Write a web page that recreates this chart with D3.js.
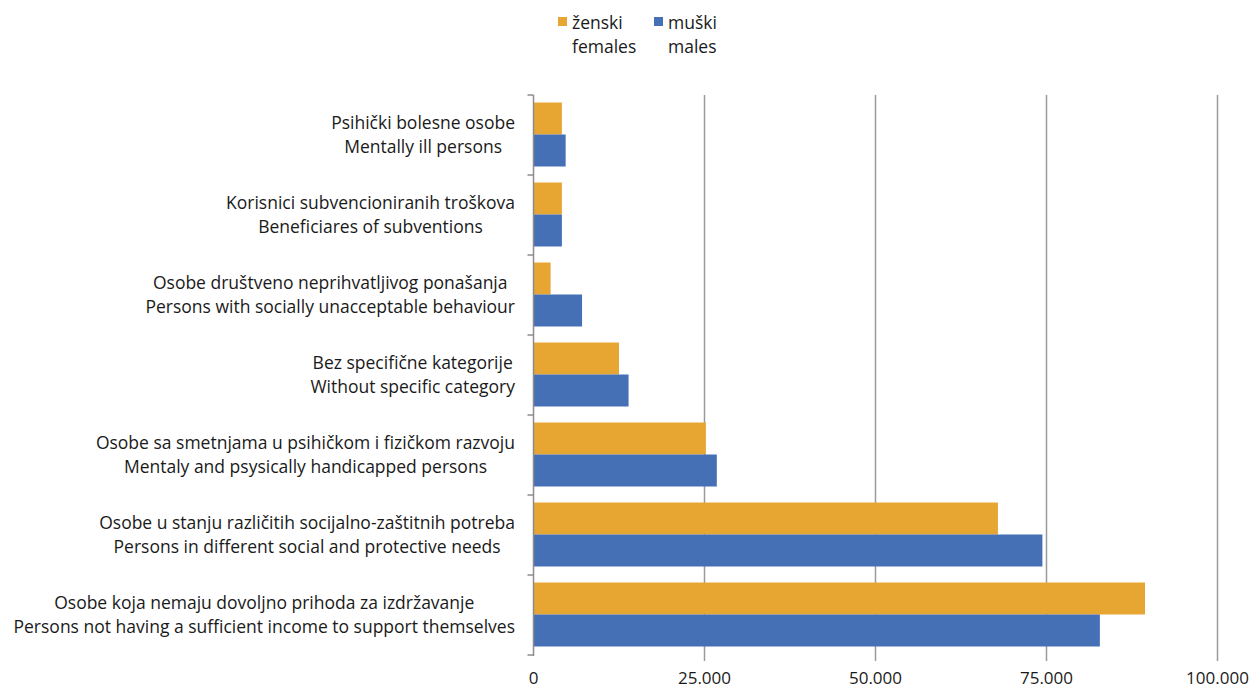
<!DOCTYPE html>
<html><head><meta charset="utf-8">
<script src="https://cdn.jsdelivr.net/npm/d3@7"></script>
<style>body{margin:0;background:#fff}svg{display:block}text{font-family:"Open Sans",sans-serif;fill:#1a1a1a}</style>
</head><body><svg id="c" width="1252" height="689"></svg>
<script>
const categoriesLocal = ["Psihički bolesne osobe","Korisnici subvencioniranih troškova","Osobe društveno neprihvatljivog ponašanja","Bez specifične kategorije","Osobe sa smetnjama u psihičkom  i fizičkom razvoju","Osobe u stanju različitih socijalno-zaštitnih potreba","Osobe koja nemaju dovoljno prihoda za izdržavanje"];
const categoriesEnglish = ["Mentally ill persons","Beneficiares of subventions","Persons with socially unacceptable behaviour","Without specific category","Mentaly and psysically handicapped persons","Persons in different social and protective needs","Persons not having a sufficient income to support themselves"];
const females = [4150, 4150, 2500, 12500, 25200, 67900, 89400];
const males = [4700, 4150, 7100, 13900, 26800, 74400, 82800];
const seriesNames = ["ženski","muški"];
const seriesNamesEn = ["females","males"];
const seriesColors = ["#E7A532","#4570B6"];
const xTicks = [0, 25000, 50000, 75000, 100000];
const xTickLabels = ["0","25.000","50.000","75.000","100.000"];

const svg = d3.select("#c");
const x = d3.scaleLinear().domain([0,100000]).range([533.5,1217.5]);
const y = d3.scaleBand().domain(d3.range(7)).range([95,655]);
const sub = d3.scaleBand().domain([0,1]).range([7.5,71.5]);

// gridlines
svg.append("g").selectAll("line").data(xTicks.slice(1)).join("line")
  .attr("x1",d=>x(d)).attr("x2",d=>x(d)).attr("y1",95).attr("y2",661)
  .attr("stroke","#9a9a9a").attr("stroke-width",1.5);

// bars
const groups = svg.append("g").selectAll("g").data(d3.range(7)).join("g")
  .attr("transform",i=>`translate(0,${y(i)})`);
[females, males].forEach((vals,s)=>{
  groups.append("rect")
    .attr("x",x(0)).attr("y",sub(s)).attr("height",sub.bandwidth())
    .attr("width",i=>x(vals[i])-x(0)).attr("fill",seriesColors[s]);
});

// y axis line with category ticks
svg.append("line").attr("x1",x(0)).attr("x2",x(0)).attr("y1",95).attr("y2",656)
  .attr("stroke","#8c8c8c").attr("stroke-width",1.5);
svg.append("g").selectAll("line").data(d3.range(8)).join("line")
  .attr("x1",x(0)-6).attr("x2",x(0)).attr("y1",i=>95+i*y.step()).attr("y2",i=>95+i*y.step())
  .attr("stroke","#8c8c8c").attr("stroke-width",1.5);

// x tick labels
svg.append("g").selectAll("text").data(xTicks).join("text")
  .attr("x",d=>x(d)).attr("y",684).attr("text-anchor","middle")
  .attr("font-size",17).text((d,i)=>xTickLabels[i]);

// category labels (two lines, centered block, right aligned at 515)
groups.each(function(i){
  const g = d3.select(this);
  const c = y.bandwidth()/2;
  const t1 = g.append("text").attr("font-size",17.5).attr("text-anchor","middle").text(categoriesLocal[i]);
  const t2 = g.append("text").attr("font-size",17.5).attr("text-anchor","middle").text(categoriesEnglish[i]);
  const w = Math.max(t1.node().getComputedTextLength(), t2.node().getComputedTextLength());
  const cx = 515 - w/2;
  t1.attr("x",cx).attr("y",c-6);
  t2.attr("x",cx).attr("y",c+18);
});

// legend
const leg = svg.append("g");
const legX = [558, 654];
seriesNames.forEach((n,s)=>{
  leg.append("rect").attr("x",legX[s]).attr("y",17).attr("width",9).attr("height",9).attr("fill",seriesColors[s]);
  leg.append("text").attr("x",legX[s]+14).attr("y",29).attr("font-size",17.5).text(n);
  leg.append("text").attr("x",legX[s]+14).attr("y",53).attr("font-size",17.5).text(seriesNamesEn[s]);
});
</script></body></html>
